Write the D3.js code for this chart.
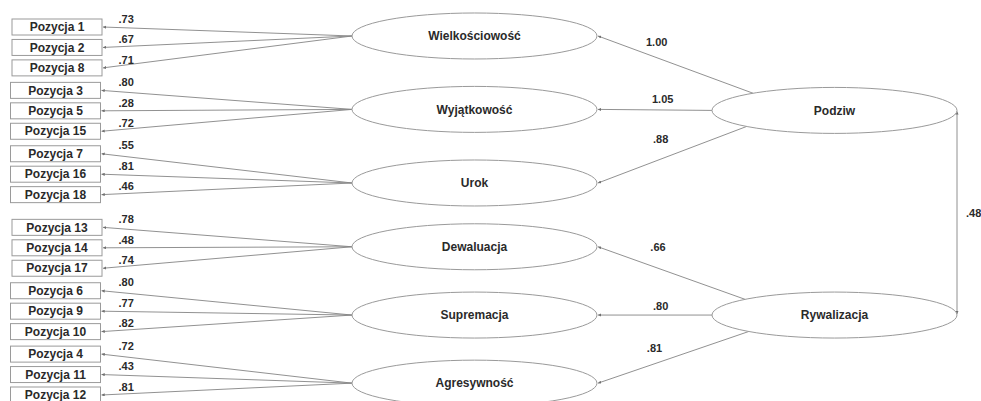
<!DOCTYPE html>
<html><head><meta charset="utf-8">
<script src="https://cdn.jsdelivr.net/npm/d3@7"></script>
<style>body{margin:0;background:#fff}svg{display:block}</style>
</head><body><svg id="c" width="981" height="401"></svg>
<script>
// ---- data ----
const factors = ["Wielkościowość","Wyjątkowość","Urok","Dewaluacja","Supremacja","Agresywność"];
const items = [
  ["Pozycja 1","Pozycja 2","Pozycja 8"],
  ["Pozycja 3","Pozycja 5","Pozycja 15"],
  ["Pozycja 7","Pozycja 16","Pozycja 18"],
  ["Pozycja 13","Pozycja 14","Pozycja 17"],
  ["Pozycja 6","Pozycja 9","Pozycja 10"],
  ["Pozycja 4","Pozycja 11","Pozycja 12"]
];
const loadings = [
  [".73",".67",".71"],
  [".80",".28",".72"],
  [".55",".81",".46"],
  [".78",".48",".74"],
  [".80",".77",".82"],
  [".72",".43",".81"]
];
const higher = ["Podziw","Rywalizacja"];
const higherOf = [0,0,0,1,1,1];
const paths = ["1.00","1.05",".88",".66",".80",".81"];
const correlation = ".48";

// ---- layout (in row units / px) ----
const factorRow = [0.44,4.03,7.63,10.75,14.09,17.42];
const higherRow = [4.08,14.09];
const pathLabelRow = [0.72,3.52,5.48,10.75,13.65,15.72];
const pathLabelX = [656.7,662.7,660.7,658,660.7,654.5];
const startFrac = [0.665,1,0.717,0.73,1,0.70];
const startSign = [-1,0,1,-1,0,1];
const groupOff = [1.5,0,0,1.5,0,0];

const svg = d3.select("#c");
const y = d3.scaleLinear().domain([0,18]).range([27,395]);
const x = d3.scaleOrdinal().domain(["item","factor","higher","corr"]).range([55.5,474.5,834.5,957]);
const RX = 122.5, RY = 23, BW = 90, BH = 16;
const lineCol = "#858585", boxCol = "#9a9a9a", textCol = "#2a2a2a";
const font = "'Liberation Sans', Arial, sans-serif";

const defs = svg.append("defs");
defs.append("marker").attr("id","ah").attr("viewBox","0 0 10 10")
  .attr("refX",10).attr("refY",5).attr("markerWidth",3.2).attr("markerHeight",3.2)
  .attr("orient","auto-start-reverse").attr("markerUnits","userSpaceOnUse")
  .append("path").attr("d","M0,0L10,5L0,10Z").attr("fill","#707070");

const itemRow = (g,k) => g*3 + k + 0.1*g + (g>=3 ? 0.5 : 0);

// loading lines + boxes
items.forEach((grp,g) => {
  const fy = y(factorRow[g]);
  const fx = x("factor") - RX;
  grp.forEach((name,k) => {
    const iy = y(itemRow(g,k));
    const cx = x("item") + groupOff[g];
    svg.append("line")
      .attr("x1",fx).attr("y1",fy)
      .attr("x2",cx + BW/2 + 1).attr("y2",iy)
      .attr("stroke",lineCol).attr("stroke-width",0.9)
      .attr("marker-end","url(#ah)");
    svg.append("rect")
      .attr("x",cx - BW/2).attr("y",iy - BH/2)
      .attr("width",BW).attr("height",BH)
      .attr("fill","#fff").attr("stroke",boxCol).attr("stroke-width",1);
    svg.append("text")
      .attr("x",cx).attr("y",iy + 4.2)
      .attr("text-anchor","middle")
      .attr("font-family",font).attr("font-weight","bold").attr("font-size",12)
      .attr("fill",textCol).text(name);
    svg.append("text")
      .attr("x",118.5).attr("y",iy - 4.3)
      .attr("font-family",font).attr("font-weight","bold").attr("font-size",11)
      .attr("fill",textCol).text(loadings[g][k]);
  });
});

// structural paths
factors.forEach((f,g) => {
  const h = higherOf[g];
  const hx = x("higher"), hy = y(higherRow[h]);
  const sx = hx - RX*startFrac[g];
  const sy = hy + startSign[g]*RY*Math.sqrt(Math.max(0,1-startFrac[g]*startFrac[g]));
  svg.append("line")
    .attr("x1",sx).attr("y1",sy)
    .attr("x2",x("factor") + RX + 1).attr("y2",y(factorRow[g]))
    .attr("stroke",lineCol).attr("stroke-width",0.9)
    .attr("marker-end","url(#ah)");
  svg.append("text")
    .attr("x",pathLabelX[g]).attr("y",y(pathLabelRow[g]) + 4)
    .attr("text-anchor","middle")
    .attr("font-family",font).attr("font-weight","bold").attr("font-size",11)
    .attr("fill",textCol).text(paths[g]);
});

// correlation
svg.append("line")
  .attr("x1",x("corr")).attr("y1",y(higherRow[0]) + 1)
  .attr("x2",x("corr")).attr("y2",y(higherRow[1]) - 1)
  .attr("stroke",lineCol).attr("stroke-width",0.9)
  .attr("marker-start","url(#ah)").attr("marker-end","url(#ah)");
svg.append("text")
  .attr("x",966).attr("y",y(9.1) + 4)
  .attr("font-family",font).attr("font-weight","bold").attr("font-size",11)
  .attr("fill",textCol).text(correlation);

// ellipses
function ell(cx,cy,label){
  svg.append("ellipse").attr("cx",cx).attr("cy",cy).attr("rx",RX).attr("ry",RY)
    .attr("fill","#fff").attr("stroke",boxCol).attr("stroke-width",1);
  svg.append("text").attr("x",cx).attr("y",cy + 4.2).attr("text-anchor","middle")
    .attr("font-family",font).attr("font-weight","bold").attr("font-size",12)
    .attr("fill",textCol).text(label);
}
factors.forEach((f,g) => ell(x("factor"), y(factorRow[g]), f));
higher.forEach((h,i) => ell(x("higher"), y(higherRow[i]), h));
</script></body></html>
